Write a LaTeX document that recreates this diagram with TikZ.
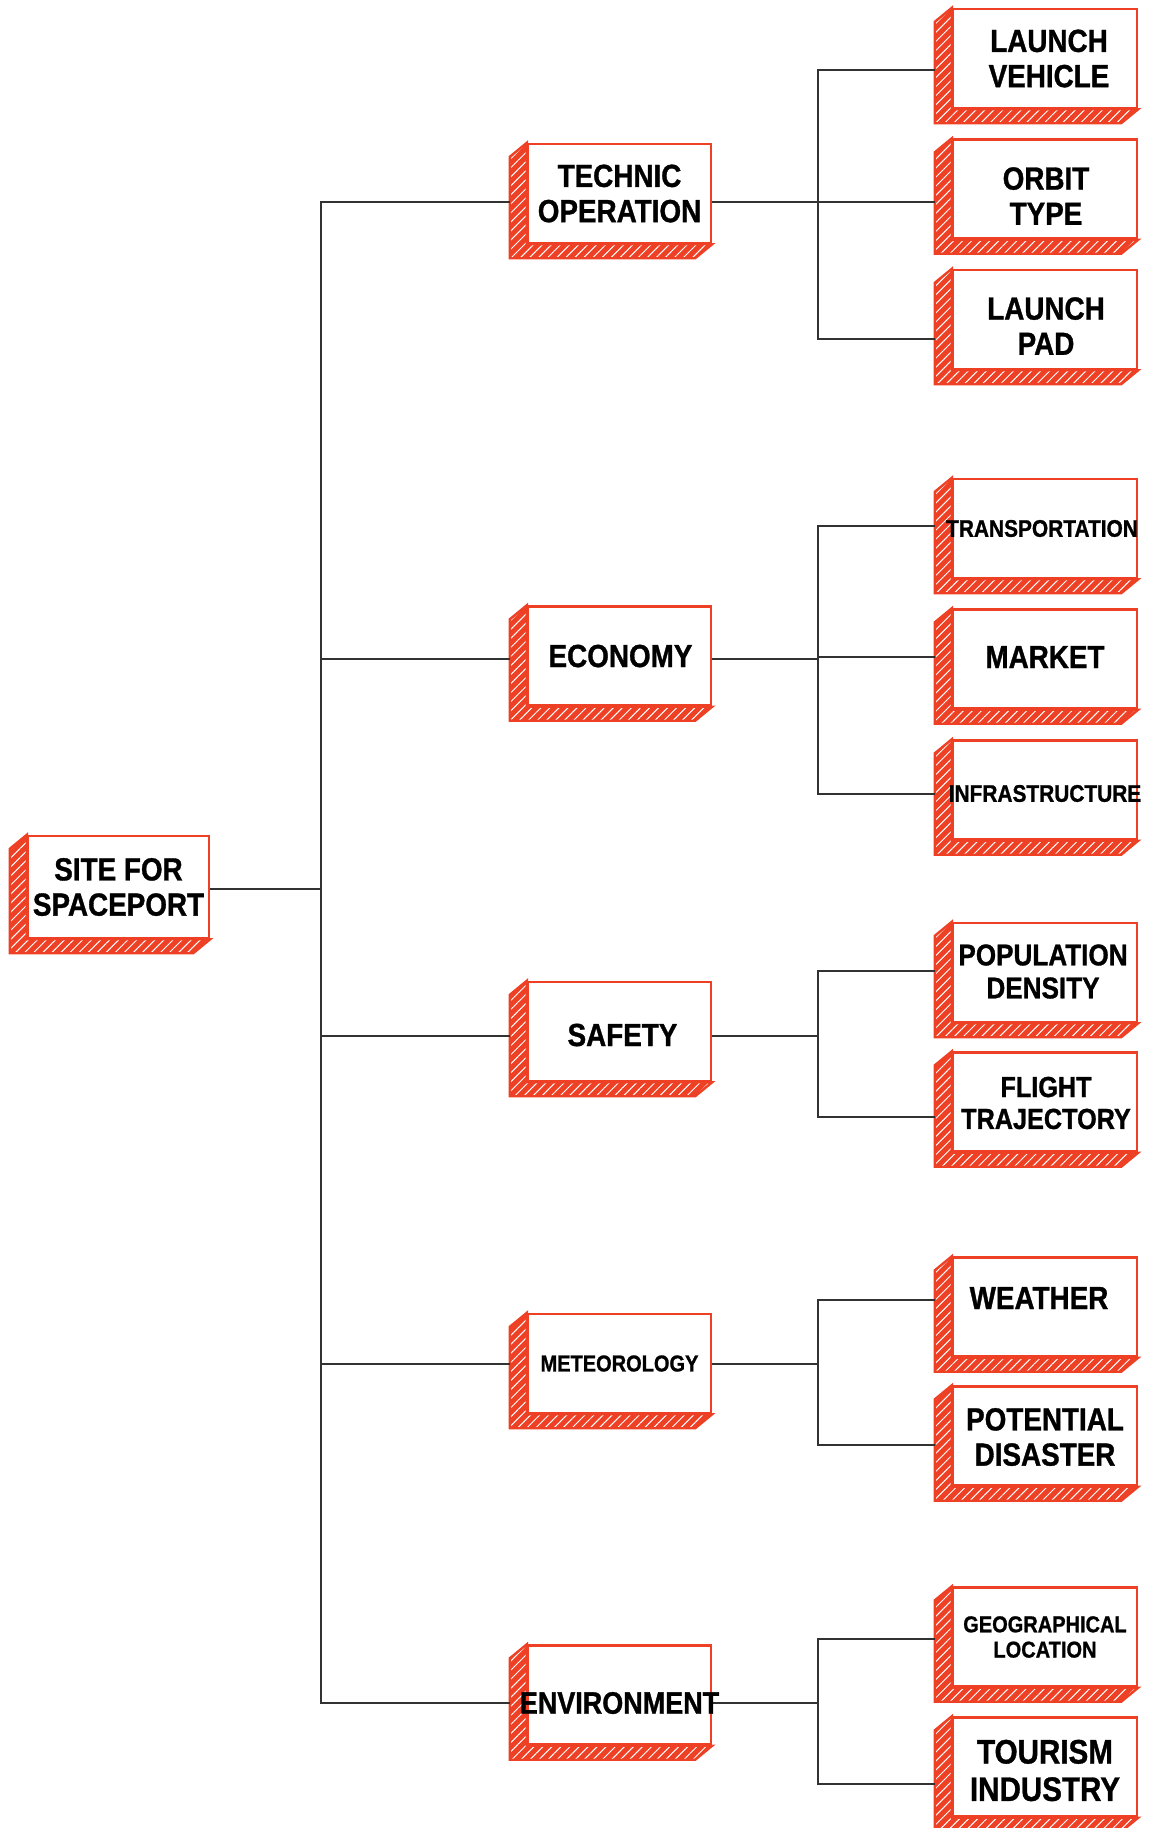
\documentclass[tikz,border=0pt]{standalone}
\usepackage{fontspec}
\newfontfamily\boxfont{Liberation Sans}[FakeStretch=0.87, BoldFeatures={FakeBold=1}]
\usetikzlibrary{patterns.meta}
\definecolor{spred}{RGB}{238,64,36}
\definecolor{conncol}{RGB}{50,50,50}
\pgfdeclarelayer{background}
\pgfsetlayers{background,main}
\tikzset{
  front/.style={draw=spred, line width=1.2pt, fill=white, inner sep=0pt},
  lbl/.style={inner sep=0pt, align=center, text=black},
  extr/.style={preaction={fill=spred}, pattern={Lines[angle=45,distance=3.2pt,line width=0.5pt]}, pattern color=white, draw=spred, line width=1.2pt, line join=miter},
  conn/.style={draw=conncol, line width=1.3pt}
}
% name, cx, cy, w, h, font size, text shift, text
\newcommand{\spbox}[8]{%
  \node[front, minimum width=#4*0.5pt, minimum height=#5*0.5pt] (#1) at (#2,#3) {};
  \node[lbl, font=\boxfont\bfseries\fontsize{#6}{\fpeval{#6*1.1}}\selectfont] (#1t) at ([shift={#7}]#1.center) {#8};
  \begin{pgfonlayer}{background}
    \path[extr] (#1.north west) -- ([shift={(-17,14)}]#1.north west) -- ([shift={(-17,14)}]#1.south west)
      -- ([shift={(-17,14)}]#1.south east) -- (#1.south east) -- (#1.south west) -- cycle;
  \end{pgfonlayer}}
\begin{document}
\begin{tikzpicture}[x=0.5pt,y=-0.5pt]
\useasboundingbox (0,0) rectangle (1151,1828);
% root and middle level
\spbox{root}{118.5}{887}{181}{102}{16}{(0,0)}{SITE FOR\\SPACEPORT}
\spbox{tech}{619.5}{193.5}{183}{99}{16}{(0,0)}{TECHNIC\\OPERATION}
\spbox{econ}{619.5}{656}{183}{99}{16}{(1,0)}{ECONOMY}
\spbox{safe}{619.5}{1031.5}{183}{99}{16}{(3,3.5)}{SAFETY}
\spbox{mete}{619.5}{1363.5}{183}{99}{11.5}{(0,0)}{METEOROLOGY}
\spbox{envi}{619.5}{1695}{183}{99}{15.5}{(0,8)}{ENVIRONMENT}
% leaves
\spbox{lv}{1045}{58.5}{184}{99}{16}{(4,0)}{LAUNCH\\VEHICLE}
\spbox{ot}{1045}{189}{184}{99}{16}{(1,7)}{ORBIT\\TYPE}
\spbox{lp}{1045}{319.5}{184}{99}{16}{(1,6.5)}{LAUNCH\\PAD}
\spbox{tr}{1045}{528.5}{184}{99}{12}{(-3,0)}{TRANSPORTATION}
\spbox{mk}{1045}{659}{184}{99}{16}{(0,-2)}{MARKET}
\spbox{in}{1045}{790}{184}{99}{12}{(0,3.5)}{INFRASTRUCTURE}
\spbox{pd}{1045}{972.5}{184}{99}{15}{(-2,-1)}{POPULATION\\DENSITY}
\spbox{ft}{1045}{1102}{184}{99}{14.5}{(1,1)}{FLIGHT\\TRAJECTORY}
\spbox{we}{1045}{1307}{184}{99}{16}{(-6,-9)}{WEATHER}
\spbox{po}{1045}{1436}{184}{99}{16}{(0,1)}{POTENTIAL\\DISASTER}
\spbox{ge}{1045}{1637}{184}{99}{11.5}{(0,0)}{GEOGRAPHICAL\\LOCATION}
\spbox{to}{1045}{1767}{184}{99}{17}{(0,3.5)}{TOURISM\\INDUSTRY}
% junction coordinates
\coordinate (rj) at (321,889);
\coordinate (tj1) at (321,202);
\coordinate (tj2) at (321,659);
\coordinate (tj3) at (321,1036);
\coordinate (tj4) at (321,1364);
\coordinate (tj5) at (321,1703);
\coordinate (sj1) at (818,202);
\coordinate (sj2) at (818,659);
\coordinate (sj3) at (818,1036);
\coordinate (sj4) at (818,1364);
\coordinate (sj5) at (818,1703);
\coordinate (lvj) at (818,70);
\coordinate (otj) at (818,202);
\coordinate (lpj) at (818,339);
\coordinate (trj) at (818,526);
\coordinate (mkj) at (818,657);
\coordinate (inj) at (818,794);
\coordinate (pdj) at (818,971);
\coordinate (ftj) at (818,1117);
\coordinate (wej) at (818,1300);
\coordinate (poj) at (818,1445);
\coordinate (gej) at (818,1639);
\coordinate (toj) at (818,1784);
\begin{pgfonlayer}{background}
\draw[conn] (root.east |- rj) -- (rj);
\foreach \m/\k in {tech/1,econ/2,safe/3,mete/4,envi/5} {
  \draw[conn] (rj) |- ([xshift=-8.5pt]\m.west |- tj\k);
  \draw[conn] (\m.east |- tj\k) -- (sj\k);
}
\foreach \l/\k in {lv/1,ot/1,lp/1,tr/2,mk/2,in/2,pd/3,ft/3,we/4,po/4,ge/5,to/5} {
  \draw[conn] (sj\k) |- ([xshift=-8.5pt]\l.west |- \l j);
}
\end{pgfonlayer}
\end{tikzpicture}
\end{document}
